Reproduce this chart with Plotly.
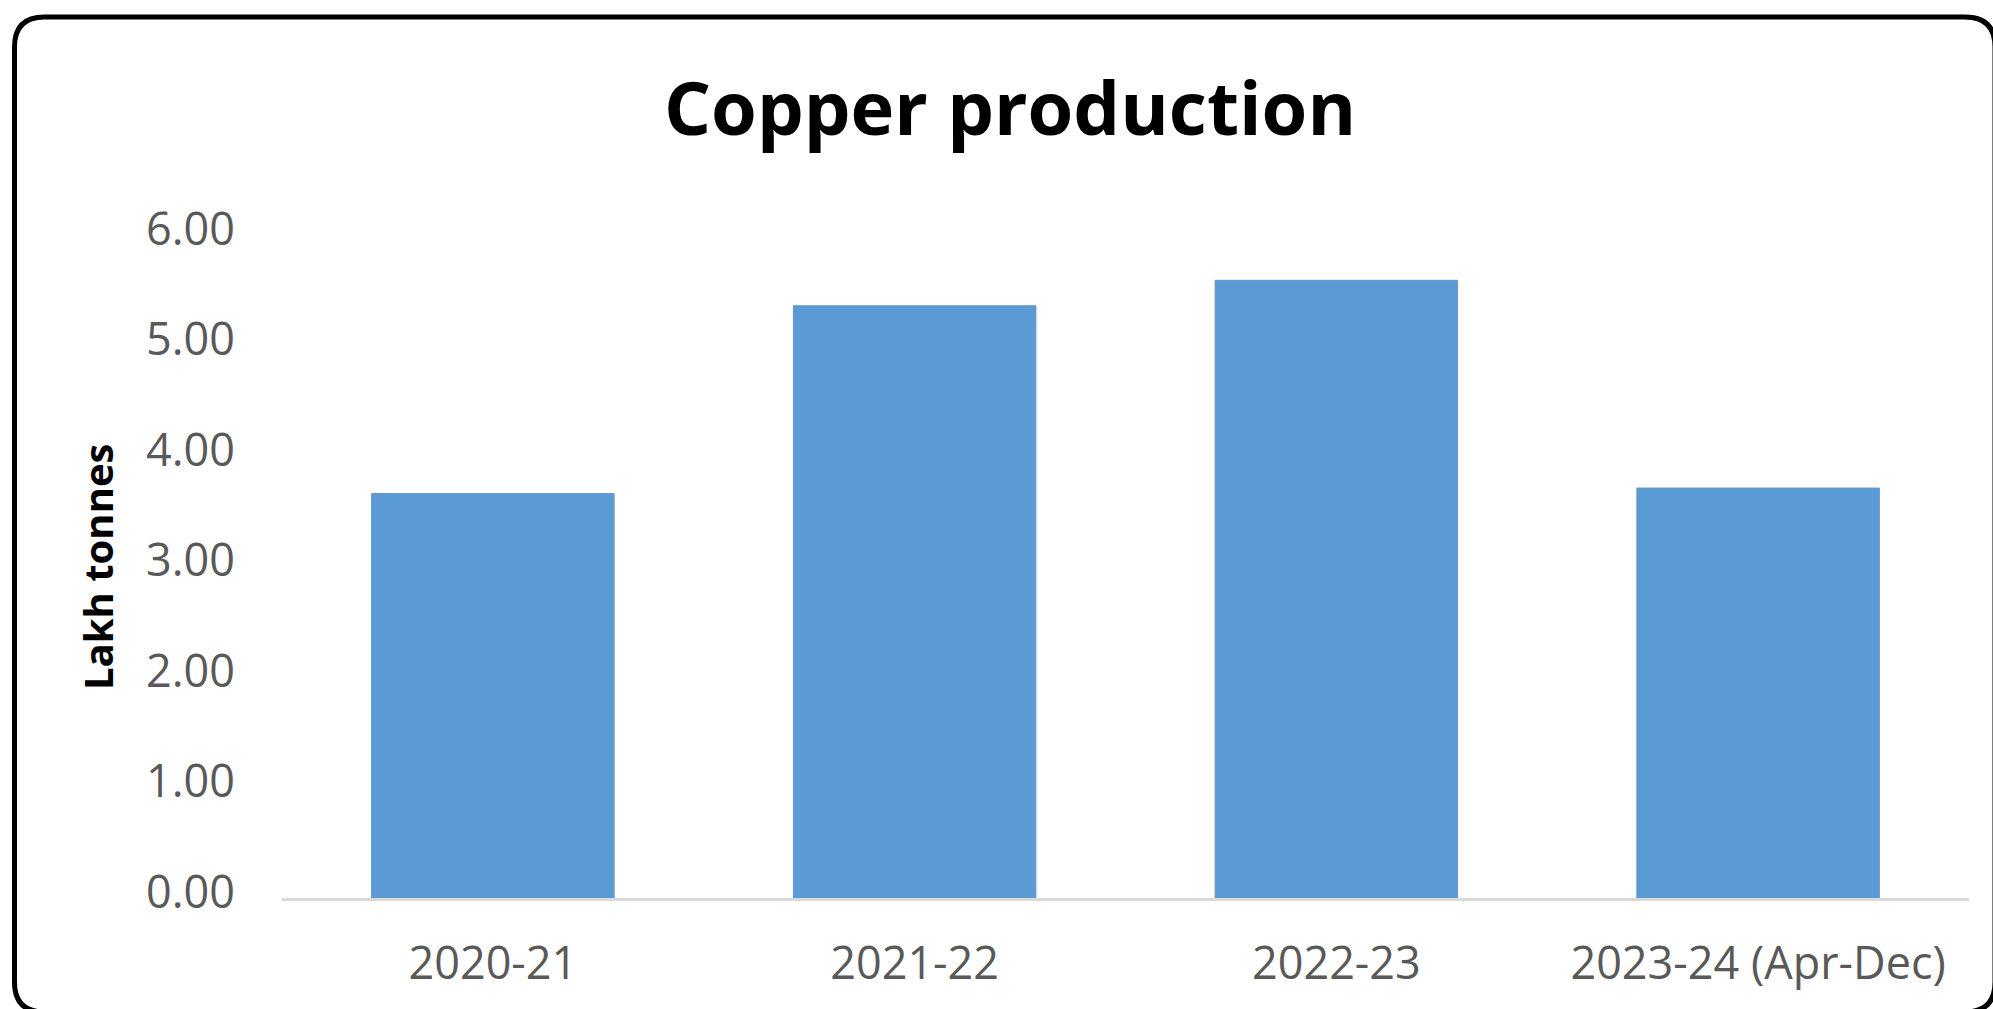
import plotly.graph_objects as go

# Copper production, lakh tonnes
years = ["2020-21", "2021-22", "2022-23", "2023-24 (Apr-Dec)"]
production = [3.66, 5.36, 5.59, 3.71]
y_ticks = [0, 1, 2, 3, 4, 5, 6]

W, H = 1993, 1009
L, R, T, B = 282, 24, 235, 111
PW, PH = W - L - R, H - T - B


def px_x(px):
    return (px - L) / PW


def px_y(py):
    return (H - B - py) / PH


def rounded_rect(x0, y0, x1, y1, r):
    # rounded-corner frame drawn in pixel units, converted to paper coordinates
    pts = [
        ("M", x0 + r, y0), ("L", x1 - r, y0), ("Q", x1, y0, x1, y0 + r),
        ("L", x1, y1 - r), ("Q", x1, y1, x1 - r, y1), ("L", x0 + r, y1),
        ("Q", x0, y1, x0, y1 - r), ("L", x0, y0 + r), ("Q", x0, y0, x0 + r, y0),
    ]
    parts = []
    for p in pts:
        cmd, coords = p[0], p[1:]
        xy = []
        for i in range(0, len(coords), 2):
            xy.append(f"{px_x(coords[i]):.5f},{px_y(coords[i + 1]):.5f}")
        parts.append(cmd + " " + " ".join(xy))
    return " ".join(parts) + " Z"


fig = go.Figure(
    go.Bar(
        x=years,
        y=production,
        marker=dict(color="#5B9BD5", line=dict(color="#6A96C4", width=1)),
        hoverinfo="skip",
    )
)

fig.update_layout(
    width=W,
    height=H,
    margin=dict(l=L, r=R, t=T, b=B),
    paper_bgcolor="white",
    plot_bgcolor="white",
    bargap=0.425,
    showlegend=False,
    title=dict(
        text="<b>Copper production</b>",
        x=1010 / W,
        xanchor="center",
        y=1 - 109 / H,
        yanchor="middle",
        font=dict(family="Open Sans", size=74, color="#000000"),
    ),
    xaxis=dict(
        showline=True,
        linecolor="#D9D9D9",
        linewidth=3,
        showgrid=False,
        zeroline=False,
        ticks="",
        ticklabelstandoff=24,
        tickfont=dict(family="Open Sans", size=45, color="#595959"),
        fixedrange=True,
    ),
    yaxis=dict(
        range=[0, 6],
        tickvals=y_ticks,
        tickformat=".2f",
        showline=False,
        showgrid=False,
        zeroline=False,
        ticks="",
        ticklabelstandoff=46,
        ticklabelshift=-6,
        tickfont=dict(family="Open Sans", size=45, color="#595959"),
        fixedrange=True,
    ),
    annotations=[
        dict(
            text="<b>Lakh tonnes</b>",
            xref="paper",
            yref="paper",
            x=px_x(97),
            y=px_y(567),
            xanchor="center",
            yanchor="middle",
            textangle=-90,
            showarrow=False,
            font=dict(family="Open Sans", size=40, color="#000000"),
        )
    ],
    shapes=[
        dict(
            type="path",
            xref="paper",
            yref="paper",
            path=rounded_rect(14.5, 17, 1995, 1012, 30),
            line=dict(color="#000000", width=5),
            fillcolor="rgba(0,0,0,0)",
            layer="above",
        )
    ],
)

fig.write_html("out.html", config={"displayModeBar": False})
